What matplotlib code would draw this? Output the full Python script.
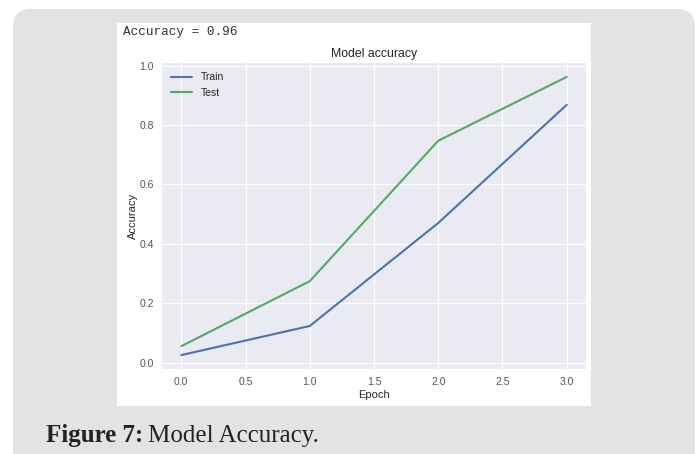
import matplotlib
matplotlib.use('Agg')
import matplotlib.pyplot as plt
from matplotlib.patches import FancyBboxPatch, Rectangle

epochs = [0, 1, 2, 3]
train_acc = [0.025, 0.123, 0.47, 0.868]
test_acc = [0.055, 0.274, 0.747, 0.962]
final_score = 0.96

plt.style.use('seaborn-v0_8-darkgrid')
plt.rcParams['font.family'] = ['Liberation Sans', 'DejaVu Sans']

fig = plt.figure(figsize=(6.96, 4.54), dpi=100)
fig.patch.set_facecolor('white')

# page backdrop drawn in pixel units
bg = fig.add_axes([0, 0, 1, 1], zorder=0)
bg.set_xlim(0, 696)
bg.set_ylim(454, 0)
bg.axis('off')
bg.add_patch(FancyBboxPatch((13, 9), 682, 470, boxstyle='round,pad=0,rounding_size=18',
                            facecolor='#e3e3e3', edgecolor='none'))
bg.add_patch(Rectangle((117, 23), 474, 383, facecolor='white', edgecolor='none'))
bg.text(123, 32, f'Accuracy = {final_score}', family='Liberation Mono',
        fontsize=9.2, color='#333333', va='center', ha='left')
cap = bg.text(46, 442, 'Figure 7:', family='Liberation Serif', fontweight='bold',
              fontsize=18, color='#222222', va='baseline', ha='left')
fig.canvas.draw()
cap_end = bg.transData.inverted().transform(
    (cap.get_window_extent().x1, 0))[0]
bg.text(cap_end + 5, 442, 'Model Accuracy.', family='Liberation Serif',
        fontsize=18, color='#222222', va='baseline', ha='left')

ax = fig.add_axes([162 / 696, 1 - 369 / 454, (586 - 162) / 696, (369 - 63) / 454], zorder=1)
ax.plot(epochs, train_acc, color='#4C72B0', lw=1.5, label='Train')
ax.plot(epochs, test_acc, color='#55A868', lw=1.5, label='Test')
ax.set_title('Model accuracy', fontsize=8.8, color='#262626', pad=4)
ax.set_xlabel('Epoch', fontsize=8, color='#262626', labelpad=2)
ax.set_ylabel('Accuracy', fontsize=8, color='#262626', labelpad=1)
ax.tick_params(labelsize=7.5, colors='#555555', pad=6)
ax.legend(loc='upper left', fontsize=7.5, frameon=False)

fig.savefig('out.png', dpi=100)
